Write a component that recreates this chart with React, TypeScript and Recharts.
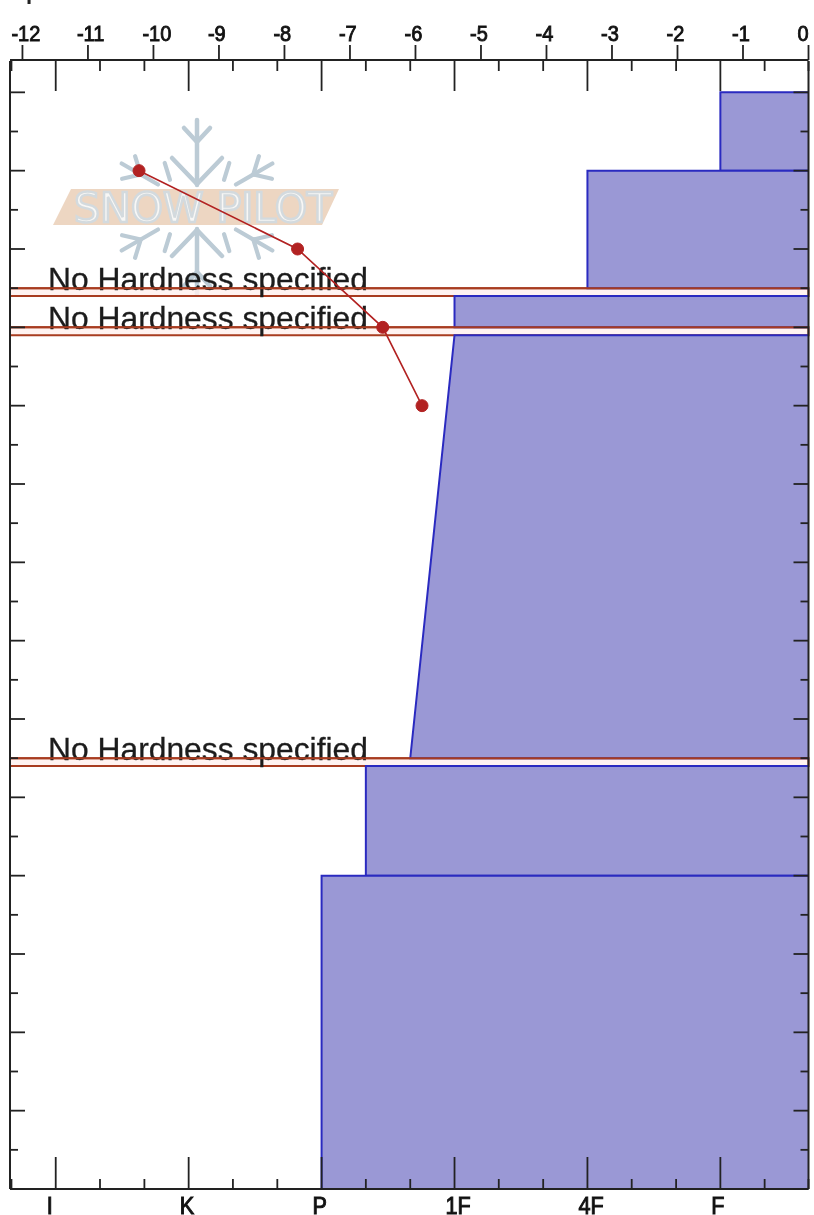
import React from 'react';
import { ComposedChart, Area, Line, XAxis, YAxis, ReferenceArea, ReferenceLine } from 'recharts';

const HARD_MIN = 0.656;
const HARD_MAX = 6.663;
const TEMP_MIN = -12.19;
const TEMP_MAX = 0;
const HEIGHT_MIN = 0;
const HEIGHT_MAX = 144;

const tempTicks = [-12, -11, -10, -9, -8, -7, -6, -5, -4, -3, -2, -1, 0];
const hardMajor = [1, 2, 3, 4, 5, 6];
const hardLabels = ['I', 'K', 'P', '1F', '4F', 'F'];
const hardMinor = [0.667, 1.333, 1.667, 2.333, 2.667, 3.333, 3.667, 4.333, 4.667, 5.333, 5.667, 6.333, 6.663];
const heightMajor = [0, 10, 20, 30, 40, 50, 60, 70, 80, 90, 100, 110, 120, 130, 140];
const heightMinor = [5, 15, 25, 35, 45, 55, 65, 75, 85, 95, 105, 115, 125, 135];

const layer1Heights = [140, 140, 130, 130];
const layer1Hardness = [HARD_MAX, 6, 6, HARD_MAX];
const layer2Heights = [130, 130, 115, 115];
const layer2Hardness = [HARD_MAX, 5, 5, HARD_MAX];
const layer3Heights = [114, 114, 110, 110];
const layer3Hardness = [HARD_MAX, 4, 4, HARD_MAX];
const layer4Heights = [109, 109, 55, 55];
const layer4Hardness = [HARD_MAX, 4, 3.667, HARD_MAX];
const layer5Heights = [54, 54, 40, 40];
const layer5Hardness = [HARD_MAX, 3.333, 3.333, HARD_MAX];
const layer6Heights = [40, 40, 0, 0];
const layer6Hardness = [HARD_MAX, 3, 3, HARD_MAX];

const tempHeights = [130, 120, 110, 100];
const tempValues = [-10.22, -7.8, -6.5, -5.9];

const bandTops = [115, 110, 55];
const bandBottoms = [114, 109, 54];
const BAND_TEXT = 'No Hardness specified';

const layers = [
  { key: 'l1', h: layer1Heights, v: layer1Hardness },
  { key: 'l2', h: layer2Heights, v: layer2Hardness },
  { key: 'l3', h: layer3Heights, v: layer3Hardness },
  { key: 'l4', h: layer4Heights, v: layer4Hardness },
  { key: 'l5', h: layer5Heights, v: layer5Hardness },
  { key: 'l6', h: layer6Heights, v: layer6Hardness },
];

const rows: any[] = [];
layers.forEach((l) => l.h.forEach((h, i) => rows.push({ height: h, [l.key]: l.v[i] })));
tempHeights.forEach((h, i) => rows.push({ height: h, temp: tempValues[i] }));

const INK = '#222222';
const RED_EDGE = '#a83c20';
const FONT = '"Liberation Sans", Arial, sans-serif';
const TICK_W = 1.8;

const TopInnerTick = (p: any) => {
  const major = hardMajor.includes(p.payload.value);
  return <line x1={p.x} x2={p.x} y1={61} y2={major ? 91 : 71} stroke={INK} strokeWidth={TICK_W} />;
};

const BottomTick = (p: any) => {
  const idx = hardMajor.indexOf(p.payload.value);
  const major = idx >= 0;
  return (
    <g>
      <line x1={p.x} x2={p.x} y1={1189} y2={major ? 1157 : 1179} stroke={INK} strokeWidth={TICK_W} />
      {major && (
        <text
          transform={`translate(${p.x - 9} 1214) scale(0.9 1)`}
          textAnchor="start"
          fontFamily={FONT}
          fontSize={24}
          fill="#111"
          stroke="#111"
          strokeWidth={1}
        >
          {hardLabels[idx]}
        </text>
      )}
    </g>
  );
};

const TempTick = (p: any) => (
  <text
    transform={`translate(${p.x - 11} 41) scale(0.93 1)`}
    textAnchor="start"
    fontFamily={FONT}
    fontSize={21.5}
    fill="#111"
    stroke="#111"
    strokeWidth={0.9}
  >
    {p.payload.value}
  </text>
);

const SideTick = (p: any) => {
  const len = heightMajor.includes(p.payload.value) ? 15 : 8;
  return (
    <g>
      <line x1={10} x2={10 + len} y1={p.y} y2={p.y} stroke={INK} strokeWidth={TICK_W} />
      <line x1={808.5} x2={808.5 - len} y1={p.y} y2={p.y} stroke={INK} strokeWidth={TICK_W} />
    </g>
  );
};

const BandLabel = (p: any) => (
  <text x={p.viewBox.x + 38} y={p.viewBox.y + 2} fontFamily={FONT} fontSize={31.8} fill="#1c1c1c" stroke="#1c1c1c" strokeWidth={0.3}>
    {BAND_TEXT}
  </text>
);

const Arm = ({ angle, big }: { angle: number; big: boolean }) => (
  <g transform={`rotate(${angle} 197 207)`} stroke="#bccbd5" strokeWidth={big ? 4.5 : 4.2} fill="none" strokeLinecap="round">
    <line x1={197} y1={big ? 185 : 162} x2={197} y2={120} />
    {big ? <path d="M172 158 L197 184 L222 158" /> : <path d="M175 157 L187 170 M219 157 L207 170" />}
    <path d="M184 128 L197 142 L210 128" />
  </g>
);

const Watermark = () => (
  <svg width={814} height={1215} style={{ position: 'absolute', left: 0, top: 0 }}>
    <text x={26} y={-1} fontFamily={FONT} fontSize={22} fontWeight={700} fill="#222">p</text>
    {[0, 60, 120, 180, 240, 300].map((a) => (
      <Arm key={a} angle={a} big={a % 180 === 0} />
    ))}
    <polygon points="71,189 339,189 322,225 53,225" fill="#edd6c2" />
    <text
      x={74}
      y={222}
      textLength={258}
      lengthAdjust="spacingAndGlyphs"
      fontFamily='"DejaVu Sans", sans-serif'
      fontSize={40}
      fill="#f8f7f5"
      stroke="#d3dade"
      strokeWidth={2.4}
    >
      SNOW PILOT
    </text>
  </svg>
);

export default function App() {
  const hardTicks = [...hardMajor, ...hardMinor].sort((a, b) => a - b);
  const heightTicks = [...heightMajor, ...heightMinor].sort((a, b) => a - b);
  return (
    <div style={{ position: 'absolute', left: 0, top: 0, width: 814, height: 1215, overflow: 'hidden', filter: 'blur(0.5px)' }}>
      <Watermark />
      <div style={{ position: 'absolute', left: 0, top: 0 }}>
        <ComposedChart
          width={814}
          height={1215}
          data={rows}
          layout="vertical"
          margin={{ top: 0, right: 4.5, bottom: 0, left: 9 }}
        >
          {bandTops.map((t, i) => (
            <ReferenceArea
              key={t}
              xAxisId="hardTop"
              yAxisId="left"
              x1={HARD_MIN}
              x2={HARD_MAX}
              y1={t}
              y2={bandBottoms[i]}
              fill="#fff0ee"
              fillOpacity={0.8}
              stroke={RED_EDGE}
              strokeWidth={2}
              label={BandLabel}
            />
          ))}
          {layers.map((l) => (
            <Area
              key={l.key}
              xAxisId="hardTop"
              yAxisId="left"
              dataKey={l.key}
              baseValue={HARD_MAX}
              type="linear"
              fill="#9a98d5"
              fillOpacity={1}
              stroke="#2a2ac0"
              strokeWidth={2}
              dot={false}
              activeDot={false}
              isAnimationActive={false}
            />
          ))}
          {bandTops.map((t) => (
            <ReferenceLine key={t} xAxisId="hardTop" yAxisId="left" y={t} stroke={RED_EDGE} strokeWidth={2} />
          ))}
          <Line
            xAxisId="temp"
            yAxisId="left"
            dataKey="temp"
            type="linear"
            stroke="#b22222"
            strokeWidth={1.6}
            dot={{ r: 6, fill: '#b22222', stroke: '#b22222', strokeWidth: 1 }}
            activeDot={false}
            isAnimationActive={false}
          />
          <XAxis
            xAxisId="hardTop"
            orientation="top"
            type="number"
            domain={[HARD_MIN, HARD_MAX]}
            allowDataOverflow
            height={1}
            ticks={hardTicks}
            interval={0}
            tickLine={false}
            axisLine={false}
            tick={TopInnerTick}
          />
          <XAxis
            xAxisId="temp"
            orientation="top"
            type="number"
            domain={[TEMP_MIN, TEMP_MAX]}
            allowDataOverflow
            height={60}
            ticks={tempTicks}
            interval={0}
            tickSize={15}
            tickMargin={5}
            tickLine={{ stroke: INK, strokeWidth: TICK_W }}
            axisLine={{ stroke: INK, strokeWidth: 2 }}
            tick={TempTick}
          />
          <XAxis
            xAxisId="hardBottom"
            orientation="bottom"
            type="number"
            domain={[HARD_MIN, HARD_MAX]}
            allowDataOverflow
            height={26}
            ticks={hardTicks}
            interval={0}
            tickLine={false}
            axisLine={{ stroke: INK, strokeWidth: 2 }}
            tick={BottomTick}
          />
          <YAxis
            yAxisId="left"
            orientation="left"
            type="number"
            dataKey="height"
            domain={[HEIGHT_MIN, HEIGHT_MAX]}
            reversed
            allowDataOverflow
            width={1}
            ticks={heightTicks}
            interval={0}
            tickSize={0}
            tickMargin={0}
            tickLine={false}
            axisLine={{ stroke: INK, strokeWidth: 2 }}
            tick={SideTick}
          />
          <YAxis
            yAxisId="right"
            orientation="right"
            type="number"
            domain={[HEIGHT_MIN, HEIGHT_MAX]}
            reversed
            allowDataOverflow
            width={1}
            tick={false}
            tickLine={false}
            axisLine={{ stroke: INK, strokeWidth: 2 }}
          />
        </ComposedChart>
      </div>
    </div>
  );
}
